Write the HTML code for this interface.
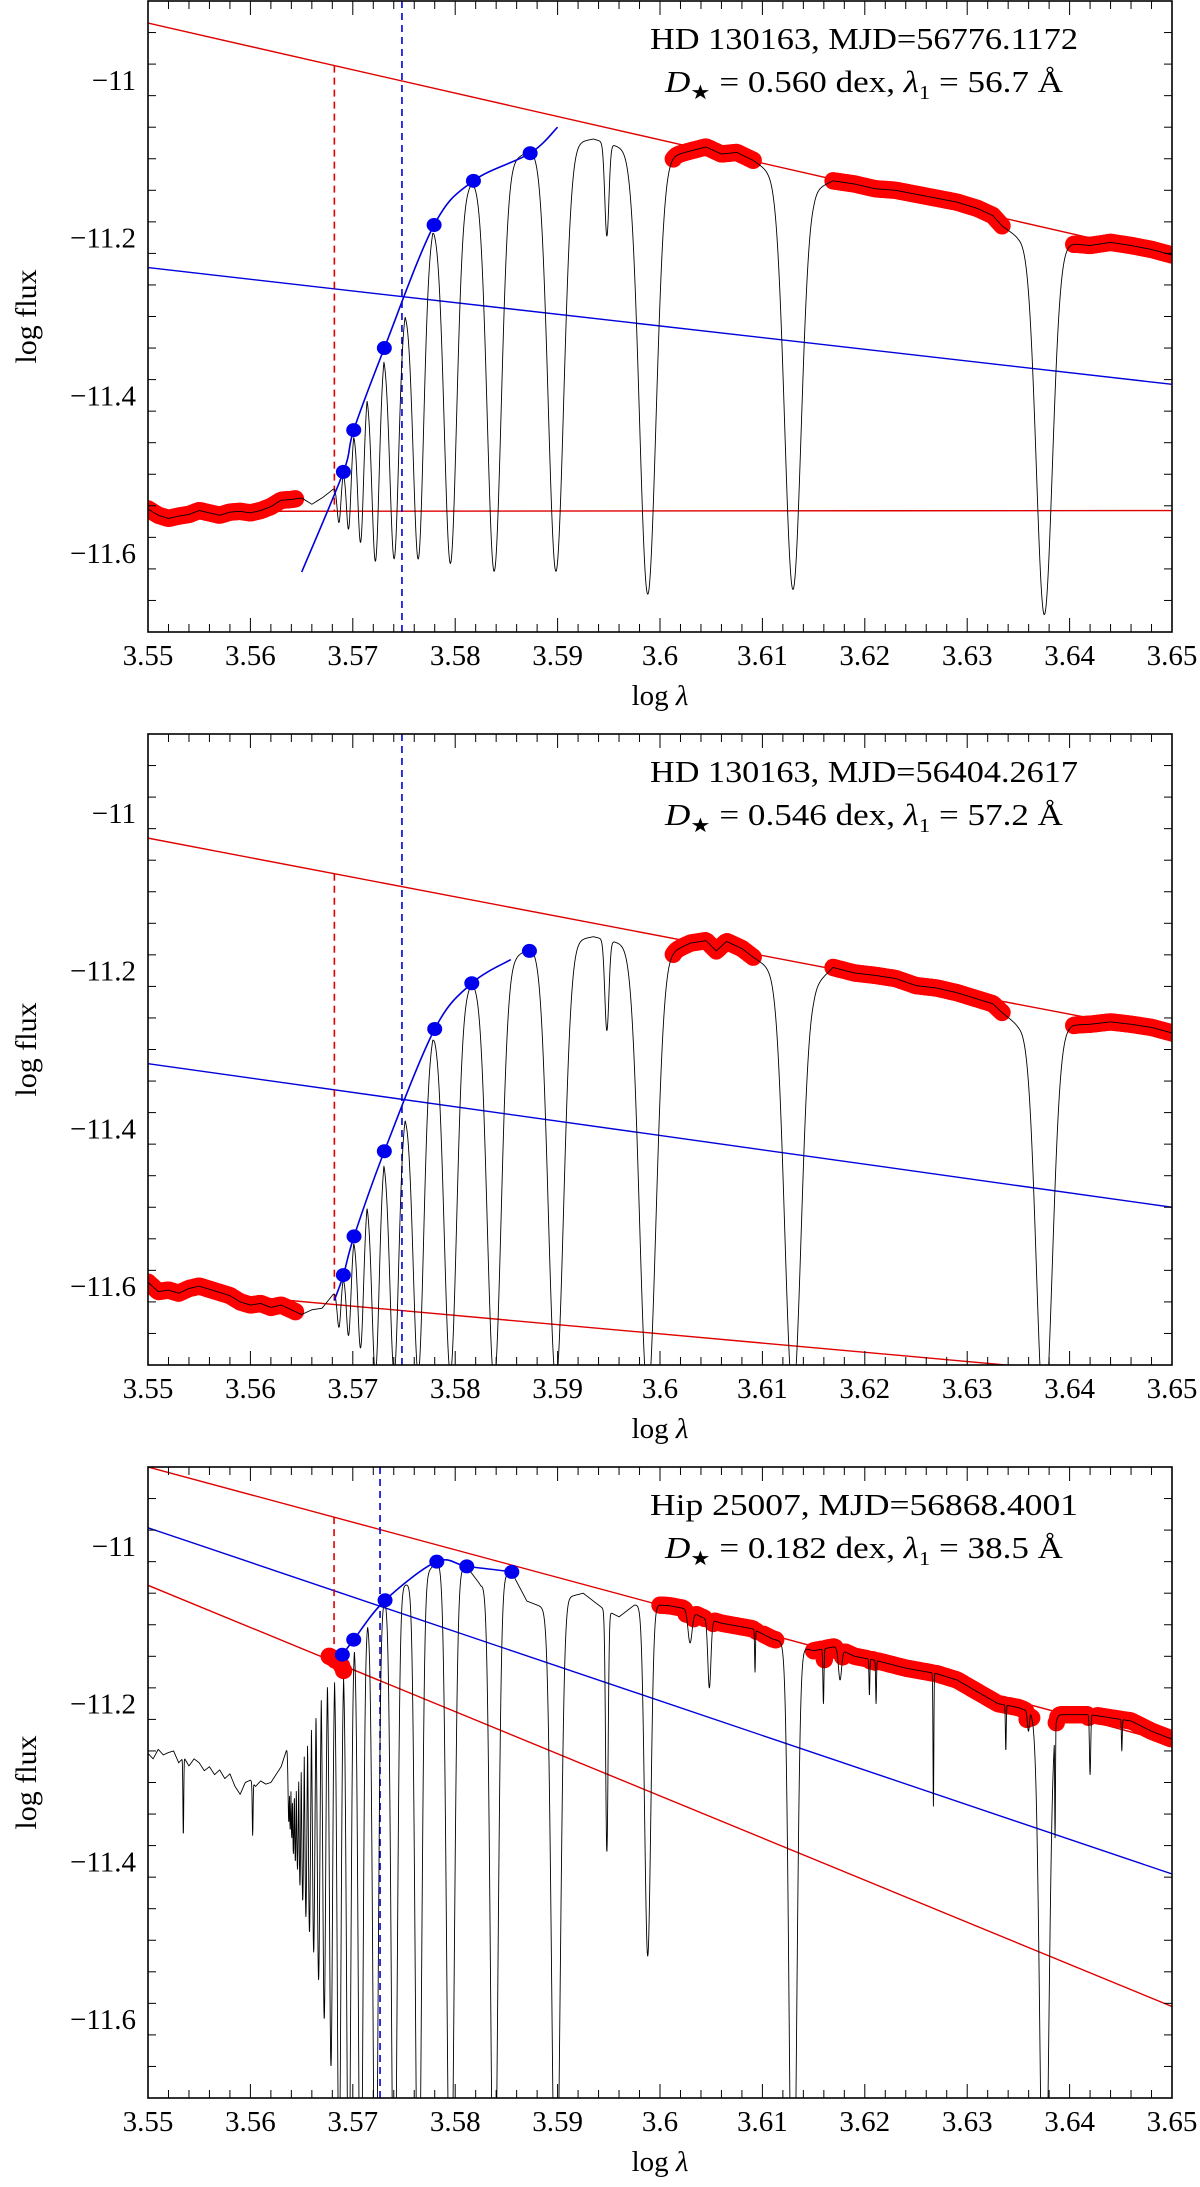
<!DOCTYPE html>
<html><head><meta charset="utf-8"><title>Balmer jump spectra</title>
<style>
html,body{margin:0;padding:0;background:#fff;}
svg{display:block;font-family:"Liberation Serif",serif;}
</style></head>
<body>
<svg id="chart" width="1200" height="2187" viewBox="0 0 1200 2187" xmlns="http://www.w3.org/2000/svg"></svg>
<script>
// ---------- shared data ----------
const xTicks = [3.55,3.56,3.57,3.58,3.59,3.6,3.61,3.62,3.63,3.64,3.65];
const xTickLabels = ["3.55","3.56","3.57","3.58","3.59","3.6","3.61","3.62","3.63","3.64","3.65"];
const yTicks = [-11,-11.2,-11.4,-11.6];
const yTickLabels = ["\u221211","\u221211.2","\u221211.4","\u221211.6"];
const balmerCenters = [3.63753,3.61298,3.59880,3.58984,3.58381,3.57954,3.57641,3.57405,3.57222,3.57077,3.56960,3.56866,3.56787,3.56721,3.56666,3.56618,3.56577,3.56542,3.56511,3.56484,3.56460,3.56439,3.56420,3.56404,3.56389,3.56375];

// ---------- panel 1 ----------
const title1a = "HD 130163, MJD=56776.1172";
const dstar1 = "0.560"; const lam1_1 = "56.7";
const contLam1 = [3.5500,3.5510,3.5520,3.5530,3.5540,3.5550,3.5560,3.5570,3.5580,3.5590,3.5600,3.5610,3.5620,3.5630,3.5640,3.5650,3.5660,3.5670,3.5678,3.5684,3.5691,3.5701,3.5714,3.5731,3.5752,3.5779,3.5818,3.5873,3.5915,3.5935,3.5960,3.6000,3.6013,3.6030,3.6045,3.6060,3.6075,3.6091,3.6105,3.6125,3.6150,3.6169,3.6190,3.6210,3.6230,3.6250,3.6270,3.6290,3.6310,3.6325,3.6334,3.6350,3.6375,3.6404,3.6420,3.6440,3.6460,3.6480,3.6500];
const contFlux1 = [-11.544,-11.552,-11.556,-11.553,-11.551,-11.546,-11.549,-11.552,-11.548,-11.547,-11.549,-11.546,-11.541,-11.533,-11.532,-11.530,-11.538,-11.530,-11.522,-11.515,-11.495,-11.444,-11.392,-11.340,-11.286,-11.184,-11.128,-11.090,-11.080,-11.075,-11.085,-11.100,-11.096,-11.090,-11.085,-11.094,-11.092,-11.102,-11.115,-11.130,-11.140,-11.128,-11.132,-11.138,-11.140,-11.145,-11.150,-11.155,-11.163,-11.172,-11.185,-11.200,-11.210,-11.208,-11.210,-11.206,-11.210,-11.215,-11.222];
const balmerMin1 = [-11.678,-11.646,-11.652,-11.623,-11.623,-11.613,-11.607,-11.607,-11.610,-11.586,-11.569,-11.561,null,null,null,null,null,null,null,null,null,null,null,null,null,null];
const balmerSig1 = [0.00078,0.0008,0.0008,0.00075,0.00068,0.0006,0.0005,0.00042,0.00035,0.00028,0.00022,0.00018,0,0,0,0,0,0,0,0,0,0,0,0,0,0];
const metalCenters1 = [3.59481]; const metalMin1 = [-11.198]; const metalSig1 = [0.0002];
const fitRangeStart1 = [3.5500,3.6013,3.6169,3.6404];
const fitRangeEnd1 = [3.5644,3.6091,3.6334,3.6500];
const extraRedLam1 = []; const extraRedFlux1 = [];
const bluePtLam1 = [3.56908,3.57009,3.57308,3.57794,3.58178,3.58732];
const bluePtFlux1 = [-11.497,-11.444,-11.340,-11.184,-11.128,-11.093];
const blueCurveLam1 = [3.56501,3.56908,3.57009,3.57308,3.57794,3.58178,3.58732,3.59000];
const blueCurveFlux1 = [-11.624,-11.497,-11.444,-11.340,-11.184,-11.128,-11.093,-11.060];
const redUpper1 = [-10.928,-11.224]; const redLower1 = [-11.547,-11.546]; const blueLine1 = [-11.238,-11.386];
const redDash1 = 3.5682; const blueDash1 = 3.5748;

// ---------- panel 2 ----------
const title2a = "HD 130163, MJD=56404.2617";
const dstar2 = "0.546"; const lam1_2 = "57.2";
const contLam2 = [3.5500,3.5510,3.5520,3.5530,3.5540,3.5550,3.5560,3.5570,3.5580,3.5590,3.5600,3.5610,3.5620,3.5630,3.5640,3.5650,3.5660,3.5670,3.5678,3.5684,3.5691,3.5701,3.5714,3.5731,3.5752,3.5780,3.5816,3.5872,3.5915,3.5935,3.5960,3.6000,3.6013,3.6030,3.6045,3.6055,3.6065,3.6080,3.6091,3.6105,3.6125,3.6150,3.6169,3.6190,3.6210,3.6230,3.6250,3.6270,3.6290,3.6310,3.6325,3.6334,3.6350,3.6375,3.6404,3.6420,3.6440,3.6460,3.6480,3.6500];
const contFlux2 = [-11.595,-11.607,-11.605,-11.609,-11.603,-11.600,-11.604,-11.608,-11.612,-11.620,-11.624,-11.622,-11.627,-11.624,-11.630,-11.636,-11.630,-11.628,-11.615,-11.605,-11.586,-11.537,-11.486,-11.429,-11.375,-11.274,-11.216,-11.172,-11.162,-11.157,-11.165,-11.178,-11.175,-11.165,-11.162,-11.175,-11.163,-11.172,-11.183,-11.195,-11.210,-11.220,-11.196,-11.203,-11.206,-11.210,-11.219,-11.222,-11.228,-11.236,-11.242,-11.253,-11.270,-11.280,-11.269,-11.268,-11.265,-11.268,-11.272,-11.279];
const balmerMin2 = [-11.77,-11.74,-11.74,-11.72,-11.72,-11.71,-11.71,-11.71,-11.71,-11.678,-11.662,-11.652,null,null,null,null,null,null,null,null,null,null,null,null,null,null];
const balmerSig2 = [0.00078,0.0008,0.0008,0.00075,0.00068,0.0006,0.0005,0.00042,0.00035,0.00028,0.00022,0.00018,0,0,0,0,0,0,0,0,0,0,0,0,0,0];
const metalCenters2 = [3.59481]; const metalMin2 = [-11.276]; const metalSig2 = [0.0002];
const fitRangeStart2 = [3.5500,3.6013,3.6169,3.6404];
const fitRangeEnd2 = [3.5644,3.6091,3.6334,3.6500];
const extraRedLam2 = []; const extraRedFlux2 = [];
const bluePtLam2 = [3.56908,3.57012,3.57308,3.57800,3.58162,3.58725];
const bluePtFlux2 = [-11.586,-11.537,-11.429,-11.274,-11.216,-11.175];
const blueCurveLam2 = [3.5682,3.56908,3.57012,3.57308,3.57800,3.58162,3.58543];
const blueCurveFlux2 = [-11.618,-11.586,-11.537,-11.429,-11.274,-11.216,-11.186];
const redUpper2 = [-11.032,-11.280]; const redLower2 = [-11.602,-11.719]; const blueLine2 = [-11.318,-11.500];
const redDash2 = 3.5682; const blueDash2 = 3.5748;

// ---------- panel 3 ----------
const title3a = "Hip 25007, MJD=56868.4001";
const dstar3 = "0.182"; const lam1_3 = "38.5";
const contLam3 = [3.5500,3.5505,3.5510,3.5515,3.5520,3.5525,3.5530,3.5535,3.5540,3.5545,3.5550,3.5555,3.5560,3.5565,3.5570,3.5575,3.5580,3.5585,3.5590,3.5595,3.5600,3.5605,3.5610,3.5615,3.5620,3.5630,3.5640,3.5650,3.5660,3.5670,3.5680,3.5690,3.5701,3.5715,3.5731,3.5750,3.5765,3.5782,3.5800,3.5811,3.5825,3.5840,3.5855,3.5870,3.5890,3.5910,3.5925,3.5945,3.5960,3.5975,3.6000,3.6010,3.6026,3.6040,3.6060,3.6090,3.6110,3.6150,3.6170,3.6190,3.6210,3.6240,3.6270,3.6290,3.6310,3.6330,3.6350,3.6366,3.6384,3.6420,3.6440,3.6460,3.6480,3.6500];
const contFlux3 = [-11.263,-11.270,-11.258,-11.265,-11.262,-11.260,-11.275,-11.268,-11.279,-11.270,-11.275,-11.285,-11.280,-11.290,-11.284,-11.295,-11.289,-11.305,-11.315,-11.300,-11.297,-11.305,-11.298,-11.302,-11.300,-11.280,-11.240,-11.190,-11.160,-11.140,-11.140,-11.137,-11.119,-11.095,-11.069,-11.050,-11.045,-11.020,-11.030,-11.026,-11.050,-11.040,-11.033,-11.070,-11.080,-11.065,-11.060,-11.080,-11.090,-11.075,-11.075,-11.076,-11.080,-11.090,-11.098,-11.105,-11.118,-11.133,-11.128,-11.140,-11.145,-11.155,-11.162,-11.170,-11.185,-11.200,-11.205,-11.213,-11.214,-11.214,-11.218,-11.222,-11.235,-11.245];
const balmerMin3 = [-11.95,-11.95,-11.52,-11.9,-11.9,-11.9,-11.9,-11.9,-11.9,-11.9,-11.85,-11.8,-11.66,-11.60,-11.55,-11.515,-11.49,-11.47,-11.45,-11.43,-11.41,-11.40,-11.39,-11.37,-11.36,-11.35];
const balmerSig3 = [0.0004,0.00035,0.0003,0.0004,0.00035,0.00035,0.0003,0.00028,0.00025,0.00022,0.0002,0.00018,0.00015,0.00014,0.00013,0.00012,0.00011,0.0001,0.0001,0.00009,0.00009,0.00008,0.00008,0.00007,0.00007,0.00007];
const metalCenters3 = [3.59481,3.55345,3.56022,3.60293,3.60482,3.60928,3.61596,3.61758,3.62045,3.62110,3.62670,3.63377,3.63598,3.63858,3.64200,3.64510];
const metalMin3 = [-11.388,-11.367,-11.367,-11.123,-11.18,-11.16,-11.20,-11.17,-11.19,-11.20,-11.33,-11.26,-11.235,-11.37,-11.29,-11.26];
const metalSig3 = [0.00012,0.00004,0.00004,0.0002,0.00015,0.00004,0.00005,0.00015,0.00004,0.00004,0.00004,0.00004,0.0001,0.00004,0.00006,0.00004];
const fitRangeStart3 = [3.6000,3.6033,3.6052,3.6101,3.6150,3.6384,3.6427];
const fitRangeEnd3 = [3.6026,3.6044,3.6094,3.6114,3.6366,3.6420,3.6500];
const extraRedLam3 = [3.5677,3.5680,3.5683,3.5689,3.5691];
const extraRedFlux3 = [-11.140,-11.142,-11.145,-11.152,-11.158];
const bluePtLam3 = [3.56898,3.57009,3.57315,3.57820,3.58113,3.58553];
const bluePtFlux3 = [-11.138,-11.119,-11.069,-11.020,-11.026,-11.033];
const blueCurveLam3 = [3.5688,3.56898,3.57009,3.57315,3.57820,3.58113,3.58553,3.5858];
const blueCurveFlux3 = [-11.142,-11.138,-11.119,-11.069,-11.020,-11.026,-11.033,-11.036];
const redUpper3 = [-10.900,-11.250]; const redLower3 = [-11.050,-11.584]; const blueLine3 = [-10.977,-11.416];
const redDash3 = 3.56817; const blueDash3 = 3.57266;

// ---------- drawing ----------
const NS = "http://www.w3.org/2000/svg";
const XMIN = 3.55, XMAX = 3.65, YMIN = -11.7, YMAX = -10.9;
const PL = 148, PR = 1172, PH = 631;
const svg = document.getElementById("chart");
function sx(l){ return PL + (l - XMIN) / (XMAX - XMIN) * (PR - PL); }
function mk(tag, attrs, parent){
  const e = document.createElementNS(NS, tag);
  for (const k in attrs) e.setAttribute(k, attrs[k]);
  (parent || svg).appendChild(e);
  return e;
}
function interp(xs, ys, x){
  if (x <= xs[0]) return ys[0];
  for (let i = 1; i < xs.length; i++) if (x <= xs[i]) { const t = (x - xs[i-1]) / (xs[i] - xs[i-1]); return ys[i-1] + t * (ys[i] - ys[i-1]); }
  return ys[ys.length - 1];
}

function drawPanel(idx, top, P){
  const sy = f => top + (YMAX - f) / (YMAX - YMIN) * PH;
  const g = mk("g", {});
  
  
  const clipId = "clip" + idx;
  const cp = mk("clipPath", {id: clipId}, g);
  mk("rect", {x: PL, y: top, width: PR - PL, height: PH}, cp);
  const data = mk("g", {"clip-path": "url(#" + clipId + ")"}, g);
  
  

  const lc = [], lm = [], ls = [];
  balmerCenters.forEach((c, i) => { if (P.bMin[i] !== null) { lc.push(c); lm.push(P.bMin[i]); ls.push(P.bSig[i]); } });
  P.mC.forEach((c, i) => { lc.push(c); lm.push(P.mMin[i]); ls.push(P.mSig[i]); });
  const lcCont = lc.map(c => interp(P.cL, P.cF, c));
  function cont(l){ return interp(P.cL, P.cF, l); }
  function flux(l){
    const c = cont(l);
    let d = 0;
    for (let i = 0; i < lc.length; i++) {
      const z = (l - lc[i]) / ls[i];
      if (Math.abs(z) > 6) continue;
      const v = (lcCont[i] - lm[i]) * Math.exp(-0.5 * z * z);
      if (v > d) d = v;
    }
    return c - d;
  }

  const rl1 = mk("line", {x1: sx(XMIN), y1: sy(P.redU[0]), x2: sx(XMAX), y2: sy(P.redU[1]), stroke: "#e00000", "stroke-width": 1.4}, data);
  
  
  const rl2 = mk("line", {x1: sx(XMIN), y1: sy(P.redL[0]), x2: sx(XMAX), y2: sy(P.redL[1]), stroke: "#e00000", "stroke-width": 1.4}, data);
  
  
  const bl = mk("line", {x1: sx(XMIN), y1: sy(P.blueL[0]), x2: sx(XMAX), y2: sy(P.blueL[1]), stroke: "#0000dd", "stroke-width": 1.4}, data);
  
  

  const tU = (P.redDash - XMIN) / (XMAX - XMIN);
  const yU = P.redU[0] + tU * (P.redU[1] - P.redU[0]);
  const yL = P.redL[0] + tU * (P.redL[1] - P.redL[0]);
  const rd = mk("line", {x1: sx(P.redDash), y1: sy(yU), x2: sx(P.redDash), y2: sy(yL), stroke: "#e00000", "stroke-width": 1.6, "stroke-dasharray": "7,5"}, data);
  
  
  const bd = mk("line", {x1: sx(P.blueDash), y1: top, x2: sx(P.blueDash), y2: top + PH, stroke: "#0000dd", "stroke-width": 1.6, "stroke-dasharray": "7,5"}, data);
  
  

  const rg = mk("g", {fill: "#ff0000"}, data);
  
  
  P.rS.forEach((s, k) => {
    for (let l = s; l <= P.rE[k] + 1e-9; l += 0.00015) {
      const f = flux(l);
      if (f < cont(l) - 0.015) continue;
      const c = mk("circle", {cx: sx(l), cy: sy(f), r: 8.7}, rg);
      
      
    }
  });
  P.xrL.forEach((l, k) => {
    const c = mk("circle", {cx: sx(l), cy: sy(P.xrF[k]), r: 8.7}, rg);
    
    
  });

  let d = "";
  for (let l = XMIN; l <= XMAX + 1e-9; l += 0.00002) {
    d += (d ? "L" : "M") + sx(l).toFixed(2) + "," + sy(flux(l)).toFixed(2);
  }
  const sp = mk("path", {d: d, fill: "none", stroke: "#000", "stroke-width": 0.9, "stroke-linejoin": "round"}, data);
  
  

  const px = P.bcL.map(sx), py = P.bcF.map(sy);
  let cd = "M" + px[0] + "," + py[0];
  for (let i = 0; i < px.length - 1; i++) {
    const x0 = px[Math.max(i-1,0)], y0 = py[Math.max(i-1,0)];
    const x3 = px[Math.min(i+2,px.length-1)], y3 = py[Math.min(i+2,px.length-1)];
    const c1x = px[i] + (px[i+1] - x0) / 6, c1y = py[i] + (py[i+1] - y0) / 6;
    const c2x = px[i+1] - (x3 - px[i]) / 6, c2y = py[i+1] - (y3 - py[i]) / 6;
    cd += "C" + c1x + "," + c1y + " " + c2x + "," + c2y + " " + px[i+1] + "," + py[i+1];
  }
  const bc = mk("path", {d: cd, fill: "none", stroke: "#0000dd", "stroke-width": 1.6}, data);
  
  
  P.bpL.forEach((l, k) => {
    const c = mk("ellipse", {cx: sx(l), cy: sy(P.bpF[k]), rx: 7.5, ry: 7, fill: "#0000ee"}, data);
    
    
  });

  const fr = mk("rect", {x: PL, y: top, width: PR - PL, height: PH, fill: "none", stroke: "#000", "stroke-width": 1.6}, g);
  
  
  const tg = mk("g", {stroke: "#000", "stroke-width": 1}, g);
  
  
  for (let k = 0; k <= 50; k++) {
    const l = XMIN + k * 0.002, x = sx(l), len = (k % 5 === 0) ? 14 : 8;
    mk("line", {x1: x, y1: top + PH, x2: x, y2: top + PH - len}, tg);
    mk("line", {x1: x, y1: top, x2: x, y2: top + len}, tg);
  }
  for (let k = 0; k <= 20; k++) {
    const f = YMIN + k * 0.04, y = sy(f), maj = Math.abs(((f + 11.0) / 0.2) - Math.round((f + 11.0) / 0.2)) < 1e-6;
    const len = maj ? 14 : 8;
    mk("line", {x1: PL, y1: y, x2: PL + len, y2: y}, tg);
    mk("line", {x1: PR, y1: y, x2: PR - len, y2: y}, tg);
  }
  xTicks.forEach((v, k) => {
    const t = mk("text", {x: sx(v), y: top + PH + 33, "text-anchor": "middle", "font-size": 29}, g);
    t.textContent = xTickLabels[k];
    
    
  });
  yTicks.forEach((v, k) => {
    const t = mk("text", {x: 136, y: sy(v) + 10, "text-anchor": "end", "font-size": 29}, g);
    t.textContent = yTickLabels[k];
    
    
  });
  const xt = mk("text", {x: (PL + PR) / 2, y: top + PH + 73, "text-anchor": "middle", "font-size": 29}, g);
  
  
  xt.innerHTML = 'log <tspan font-style="italic">λ</tspan>';
  const ytY = top + PH / 2;
  const yt = mk("text", {x: 36, y: ytY, "text-anchor": "middle", "font-size": 30, transform: "rotate(-90 36 " + ytY + ")"}, g);
  
  
  yt.textContent = "log flux";

  const t1 = mk("text", {x: 864, y: top + 48, "text-anchor": "middle", "font-size": 31, textLength: 428, lengthAdjust: "spacingAndGlyphs"}, g);
  
  
  t1.textContent = P.title;
  const t2 = mk("text", {x: 864, y: top + 91, "text-anchor": "middle", "font-size": 31, textLength: 398, lengthAdjust: "spacingAndGlyphs"}, g);
  
  
  t2.innerHTML = '<tspan font-style="italic">D</tspan><tspan font-size="20" dy="7">★</tspan><tspan dy="-7"> = ' + P.dstar + ' dex, </tspan><tspan font-style="italic">λ</tspan><tspan font-size="20" dy="7">1</tspan><tspan dy="-7"> = ' + P.lam1 + ' Å</tspan>';
}

const panelTops = [1, 734, 1467];
drawPanel(0, panelTops[0], {title: title1a, dstar: dstar1, lam1: lam1_1, cL: contLam1, cF: contFlux1, bMin: balmerMin1, bSig: balmerSig1, mC: metalCenters1, mMin: metalMin1, mSig: metalSig1, rS: fitRangeStart1, rE: fitRangeEnd1, xrL: extraRedLam1, xrF: extraRedFlux1, bpL: bluePtLam1, bpF: bluePtFlux1, bcL: blueCurveLam1, bcF: blueCurveFlux1, redU: redUpper1, redL: redLower1, blueL: blueLine1, redDash: redDash1, blueDash: blueDash1});
drawPanel(1, panelTops[1], {title: title2a, dstar: dstar2, lam1: lam1_2, cL: contLam2, cF: contFlux2, bMin: balmerMin2, bSig: balmerSig2, mC: metalCenters2, mMin: metalMin2, mSig: metalSig2, rS: fitRangeStart2, rE: fitRangeEnd2, xrL: extraRedLam2, xrF: extraRedFlux2, bpL: bluePtLam2, bpF: bluePtFlux2, bcL: blueCurveLam2, bcF: blueCurveFlux2, redU: redUpper2, redL: redLower2, blueL: blueLine2, redDash: redDash2, blueDash: blueDash2});
drawPanel(2, panelTops[2], {title: title3a, dstar: dstar3, lam1: lam1_3, cL: contLam3, cF: contFlux3, bMin: balmerMin3, bSig: balmerSig3, mC: metalCenters3, mMin: metalMin3, mSig: metalSig3, rS: fitRangeStart3, rE: fitRangeEnd3, xrL: extraRedLam3, xrF: extraRedFlux3, bpL: bluePtLam3, bpF: bluePtFlux3, bcL: blueCurveLam3, bcF: blueCurveFlux3, redU: redUpper3, redL: redLower3, blueL: blueLine3, redDash: redDash3, blueDash: blueDash3});
</script>
</body></html>
